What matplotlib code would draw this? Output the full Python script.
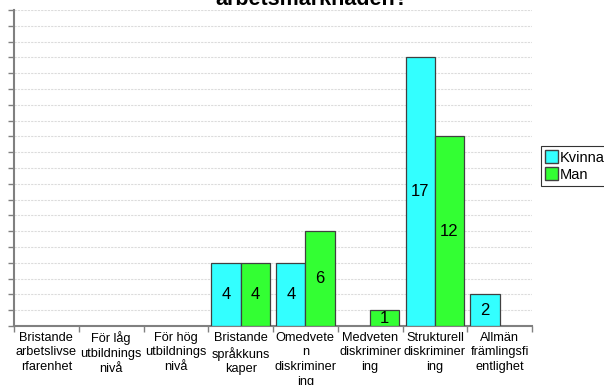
import numpy as np
import matplotlib
matplotlib.use("Agg")
from matplotlib import pyplot as plt
from matplotlib.patches import Patch

plt.rcParams['font.family'] = ['Liberation Sans', 'DejaVu Sans']

# data
kategorier = ["Bristande\narbetslivse\nrfarenhet", "För låg\nutbildnings\nnivå",
              "För hög\nutbildnings\nnivå", "Bristande\nspråkkuns\nkaper",
              "Omedvete\nn\ndiskriminer\ning", "Medveten\ndiskriminer\ning",
              "Strukturell\ndiskriminer\ning", "Allmän\nfrämlingsfi\nentlighet"]
kvinna = [0, 0, 0, 4, 4, 0, 17, 2]
man = [0, 0, 0, 4, 6, 1, 12, 0]

c_kvinna = "#33ffff"
c_man = "#33ff33"

fig = plt.figure(figsize=(6.04, 3.85), dpi=100)
ax = fig.add_axes([14/604, 1 - 326/385, (532-14)/604, (326-10)/385])

x = np.arange(len(kategorier))
bw = 0.45

for serie, off, col in [(kvinna, -bw/2, c_kvinna), (man, bw/2, c_man)]:
    v = np.array(serie, dtype=float)
    mask = v > 0
    bars = ax.bar(x[mask] + off, v[mask], width=bw, color=col,
                  edgecolor="#404040", linewidth=0.9, zorder=3)
    for b, val in zip(bars, v[mask]):
        ax.text(b.get_x() + b.get_width()/2, val/2, str(int(val)),
                ha="center", va="center", fontsize=12, zorder=4)

ax.set_xlim(-0.5, len(kategorier) - 0.5)
ax.set_ylim(0, 20)
ax.set_yticks(np.arange(0, 21, 1))
ax.set_yticklabels([])
ax.yaxis.grid(True, color="#dcdcdc", linewidth=0.8, linestyle=(0, (2, 1)))
ax.set_axisbelow(True)

ax.set_xticks(np.arange(-0.5, len(kategorier), 1))
ax.set_xticklabels([])
ax.set_xticks(x, minor=True)
ax.set_xticklabels(kategorier, minor=True, fontsize=9.2, linespacing=1.3)
ax.tick_params(axis="x", which="minor", length=0, pad=4)
ax.tick_params(axis="x", which="major", length=4, color="#808080", width=1)
ax.tick_params(axis="y", length=4, color="#808080", width=1)

for s in ["top", "right"]:
    ax.spines[s].set_visible(False)
for s in ["left", "bottom"]:
    ax.spines[s].set_color("#808080")
    ax.spines[s].set_linewidth(1.5)

fig.text(312/604, 1 - 5/385, "arbetsmarknaden?", ha="center", va="baseline",
         fontsize=15.5, fontweight="bold")

handles = [Patch(facecolor=c_kvinna, edgecolor="#404040"),
           Patch(facecolor=c_man, edgecolor="#404040")]
leg = fig.legend(handles, ["Kvinna", "Man"], loc="center left",
                 bbox_to_anchor=(541/604, 1 - 166/385), fontsize=10.5,
                 frameon=True, fancybox=False, handlelength=0.85,
                 handleheight=1.0, handletextpad=0.15, borderpad=0.3,
                 labelspacing=0.15, borderaxespad=0)
leg.get_frame().set_edgecolor("black")
leg.get_frame().set_linewidth(0.8)

fig.savefig("out.png", dpi=100)
